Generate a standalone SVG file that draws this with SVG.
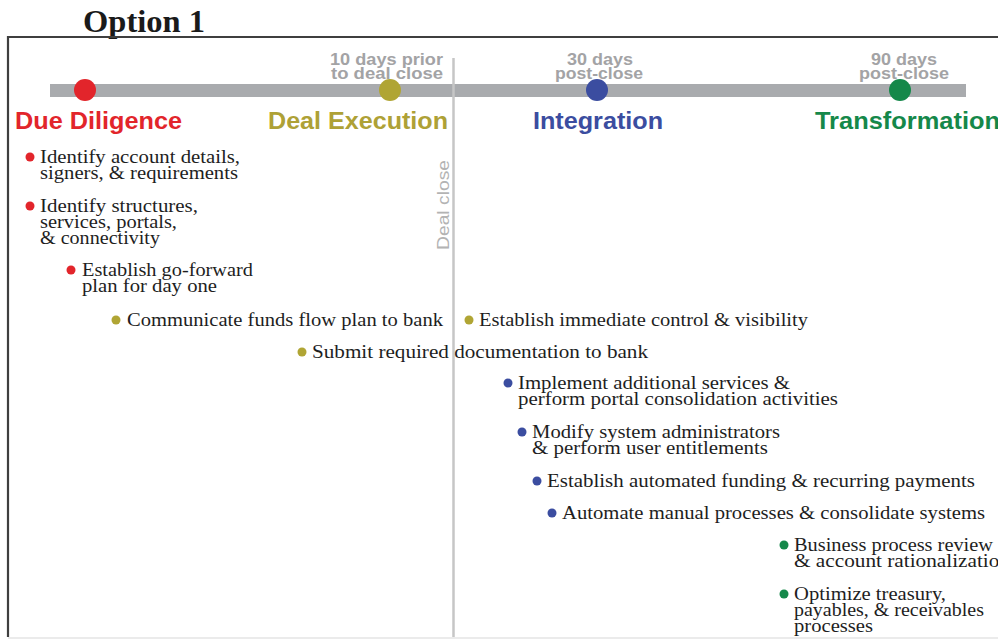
<svg xmlns="http://www.w3.org/2000/svg" width="998" height="640" viewBox="0 0 998 640">
  <style>
    .title { font-family: "Liberation Serif", "DejaVu Serif", serif; font-size: 31px; font-weight: bold; fill: #1a1a1a; }
    .when { font-family: "Liberation Sans", Arial, sans-serif; font-size: 16.5px; font-weight: bold; fill: #a3a3a5; }
    .phase { font-family: "Liberation Sans", Arial, sans-serif; font-size: 24px; font-weight: bold; }
    .task { font-family: "Liberation Serif", "DejaVu Serif", serif; font-size: 19.5px; fill: #1e1e1e; }
    .red { fill: #e2252b; }
    .olive { fill: #b0a534; }
    .blue { fill: #3b4da0; }
    .green { fill: #15884a; }
    .phase.olive { fill: #aea136; }
  </style>

  <rect width="998" height="640" fill="#ffffff"/>

  <!-- heading -->
  <text class="title" x="83" y="32" textLength="122" lengthAdjust="spacingAndGlyphs">Option 1</text>

  <!-- outer frame -->
  <path d="M8 637 V37 H998" fill="none" stroke="#3f3f3f" stroke-width="2.2"/>
  <line x1="8" y1="638" x2="998" y2="638" stroke="#e4e4e4" stroke-width="1.5"/>

  <!-- timeline bar and deal-close divider -->
  <g id="connectors">
    <rect x="50" y="84" width="916" height="13" fill="#a9abae"/>
    <line x1="453.5" y1="58" x2="453.5" y2="637" stroke="#c6c6c6" stroke-width="2.5"/>
  </g>

  <text class="when" transform="translate(449 205) rotate(-90)" text-anchor="middle" textLength="90" lengthAdjust="spacingAndGlyphs" style="font-weight:normal;fill:#b3b3b3">Deal close</text>

  <!-- milestones -->
  <g id="due-diligence">
    <circle cx="85" cy="90" r="11" class="red"/>
    <text class="phase red" x="15" y="129" textLength="167" lengthAdjust="spacingAndGlyphs">Due Diligence</text>
  </g>
  <g id="deal-execution">
    <circle cx="390" cy="90" r="11" class="olive"/>
    <text class="when" x="443" y="65" text-anchor="end" textLength="113" lengthAdjust="spacingAndGlyphs">10 days prior</text>
    <text class="when" x="443" y="78.5" text-anchor="end" textLength="112" lengthAdjust="spacingAndGlyphs">to deal close</text>
    <text class="phase olive" x="268" y="129" textLength="180" lengthAdjust="spacingAndGlyphs">Deal Execution</text>
  </g>
  <g id="integration">
    <circle cx="597" cy="90" r="11" class="blue"/>
    <text class="when" x="600" y="65" text-anchor="middle" textLength="66" lengthAdjust="spacingAndGlyphs">30 days</text>
    <text class="when" x="599" y="78.5" text-anchor="middle" textLength="88" lengthAdjust="spacingAndGlyphs">post-close</text>
    <text class="phase blue" x="533" y="129" textLength="130" lengthAdjust="spacingAndGlyphs">Integration</text>
  </g>
  <g id="transformation">
    <circle cx="900" cy="90" r="11" class="green"/>
    <text class="when" x="904" y="65" text-anchor="middle" textLength="66" lengthAdjust="spacingAndGlyphs">90 days</text>
    <text class="when" x="904" y="78.5" text-anchor="middle" textLength="90" lengthAdjust="spacingAndGlyphs">post-close</text>
    <text class="phase green" x="815" y="129" textLength="185" lengthAdjust="spacingAndGlyphs">Transformation</text>
  </g>

  <!-- due diligence tasks -->
  <g id="task-account-details">
    <circle cx="30" cy="157" r="4.5" class="red"/>
    <text class="task" x="40" y="163" textLength="200" lengthAdjust="spacingAndGlyphs">Identify account details,</text>
    <text class="task" x="40" y="179" textLength="198" lengthAdjust="spacingAndGlyphs">signers, &amp; requirements</text>
  </g>
  <g id="task-structures">
    <circle cx="30" cy="206" r="4.5" class="red"/>
    <text class="task" x="40" y="212" textLength="158" lengthAdjust="spacingAndGlyphs">Identify structures,</text>
    <text class="task" x="40" y="228" textLength="137" lengthAdjust="spacingAndGlyphs">services, portals,</text>
    <text class="task" x="40" y="244" textLength="120" lengthAdjust="spacingAndGlyphs">&amp; connectivity</text>
  </g>
  <g id="task-go-forward">
    <circle cx="71" cy="270" r="4.5" class="red"/>
    <text class="task" x="82" y="276" textLength="171" lengthAdjust="spacingAndGlyphs">Establish go-forward</text>
    <text class="task" x="82" y="292" textLength="135" lengthAdjust="spacingAndGlyphs">plan for day one</text>
  </g>

  <!-- deal execution tasks -->
  <g id="task-funds-flow">
    <circle cx="116" cy="320" r="4.5" class="olive"/>
    <text class="task" x="127" y="326" textLength="316" lengthAdjust="spacingAndGlyphs">Communicate funds flow plan to bank</text>
  </g>
  <g id="task-control">
    <circle cx="469" cy="320" r="4.5" class="olive"/>
    <text class="task" x="479" y="326" textLength="329" lengthAdjust="spacingAndGlyphs">Establish immediate control &amp; visibility</text>
  </g>
  <g id="task-documentation">
    <circle cx="302" cy="352" r="4.5" class="olive"/>
    <text class="task" x="312" y="358" textLength="336" lengthAdjust="spacingAndGlyphs">Submit required documentation to bank</text>
  </g>

  <!-- integration tasks -->
  <g id="task-services">
    <circle cx="508" cy="383" r="4.5" class="blue"/>
    <text class="task" x="518" y="389" textLength="272" lengthAdjust="spacingAndGlyphs">Implement additional services &amp;</text>
    <text class="task" x="518" y="405" textLength="320" lengthAdjust="spacingAndGlyphs">perform portal consolidation activities</text>
  </g>
  <g id="task-admins">
    <circle cx="522" cy="432" r="4.5" class="blue"/>
    <text class="task" x="532" y="438" textLength="248" lengthAdjust="spacingAndGlyphs">Modify system administrators</text>
    <text class="task" x="532" y="454" textLength="236" lengthAdjust="spacingAndGlyphs">&amp; perform user entitlements</text>
  </g>
  <g id="task-funding">
    <circle cx="537" cy="481" r="4.5" class="blue"/>
    <text class="task" x="547" y="487" textLength="428" lengthAdjust="spacingAndGlyphs">Establish automated funding &amp; recurring payments</text>
  </g>
  <g id="task-automate">
    <circle cx="552" cy="513" r="4.5" class="blue"/>
    <text class="task" x="562" y="519" textLength="423" lengthAdjust="spacingAndGlyphs">Automate manual processes &amp; consolidate systems</text>
  </g>

  <!-- transformation tasks -->
  <g id="task-review">
    <circle cx="784" cy="545" r="4.5" class="green"/>
    <text class="task" x="794" y="551" textLength="199" lengthAdjust="spacingAndGlyphs">Business process review</text>
    <text class="task" x="794" y="567" textLength="216" lengthAdjust="spacingAndGlyphs">&amp; account rationalization</text>
  </g>
  <g id="task-optimize">
    <circle cx="784" cy="594" r="4.5" class="green"/>
    <text class="task" x="794" y="600" textLength="152" lengthAdjust="spacingAndGlyphs">Optimize treasury,</text>
    <text class="task" x="794" y="616" textLength="190" lengthAdjust="spacingAndGlyphs">payables, &amp; receivables</text>
    <text class="task" x="794" y="632" textLength="79" lengthAdjust="spacingAndGlyphs">processes</text>
  </g>
</svg>
